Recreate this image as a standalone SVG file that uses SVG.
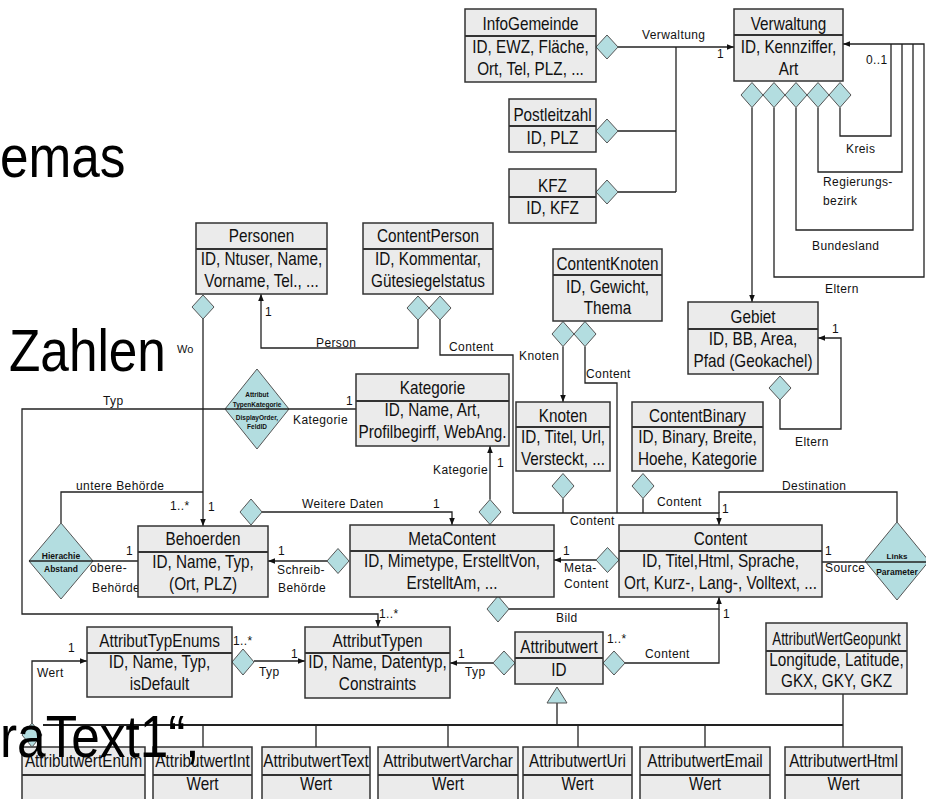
<svg xmlns="http://www.w3.org/2000/svg" width="926" height="799" viewBox="0 0 926 799">
<style>
.box{fill:#ebebeb;stroke:#333;stroke-width:1.5}
.sep{stroke:#333;stroke-width:2}
.bt{font-family:"Liberation Sans",Arial,sans-serif;font-size:18px;fill:#111;text-anchor:middle}
.lb{font-family:"Liberation Sans",Arial,sans-serif;font-size:12px;letter-spacing:.4px;fill:#111}
.dm{fill:#b3dde0;stroke:#555;stroke-width:1}
.dt{font-family:"Liberation Sans",Arial,sans-serif;font-weight:bold;fill:#111;text-anchor:middle}
.c{fill:none;stroke:#222;stroke-width:1.3}
.g2{fill:none;stroke:#222;stroke-width:2.2}
.big{font-family:"Liberation Sans",Arial,sans-serif;font-size:59px;fill:#000}
</style>
<defs>
<marker id="ah" viewBox="0 0 10 10" refX="10" refY="5" markerWidth="7" markerHeight="7" markerUnits="userSpaceOnUse" orient="auto"><path d="M0,1 L10,5 L0,9z" fill="#111"/></marker>
</defs>
<rect width="926" height="799" fill="#fff"/>

<g id="connectors">
<path class="c" d="M618,47 H734" marker-end="url(#ah)"/>
<path class="c" d="M618,131 H676 M618,192 H676 M676,47 V192"/>
<path class="c" d="M752,107.5 V302" marker-end="url(#ah)"/>
<path class="c" d="M774,107.5 V277 H924 V44 H843" marker-end="url(#ah)"/>
<path class="c" d="M796,107.5 V230 H913 V44"/>
<path class="c" d="M818,107.5 V172 H902 V44"/>
<path class="c" d="M840,107.5 V136 H891 V44"/>
<path class="c" d="M203,319 V526" marker-end="url(#ah)"/>
<path class="c" d="M61,523 V492 H203"/>
<path class="c" d="M418,320 V348 H261 V294" marker-end="url(#ah)"/>
<path class="c" d="M440,320 V355 H513 V513"/>
<path class="c" d="M563,346.5 V402" marker-end="url(#ah)"/>
<path class="c" d="M585,346.5 V383 H617 V513"/>
<path class="c" d="M563,498.5 V513 M643,498.5 V513"/>
<path class="c" d="M513,513 H719 V525" marker-end="url(#ah)"/>
<path class="c" d="M897,522 V492 H719 V513"/>
<path class="c" d="M822,562 H865"/>
<path class="c" d="M780,400 V429 H841 V338 H818" marker-end="url(#ah)"/>
<path class="c" d="M225,409 H22 V614 H378 V627" marker-end="url(#ah)"/>
<path class="c" d="M289,409 H356"/>
<path class="c" d="M490,499.5 V446" marker-end="url(#ah)"/>
<path class="c" d="M262,512 H452 V525" marker-end="url(#ah)"/>
<path class="c" d="M93,561 H138"/>
<path class="c" d="M327,561 H268" marker-end="url(#ah)"/>
<path class="c" d="M596,560 H554" marker-end="url(#ah)"/>
<path class="c" d="M509,609 H719 V597" marker-end="url(#ah)"/>
<path class="c" d="M625,663 H719 V609"/>
<path class="c" d="M493,663 H450" marker-end="url(#ah)"/>
<path class="c" d="M254,661 H305" marker-end="url(#ah)"/>
<path class="c" d="M32,723 V661 H87" marker-end="url(#ah)"/>
<path class="c" d="M557,703 V725 M843,694 V747 M203,725 V747 M316,725 V747 M448,725 V747 M578,725 V747 M705,725 V747"/>
<path class="g2" d="M43,725 H843"/>
<polygon class="dm" points="557,687 567,703 547,703"/>
<g id="diamond-ends">
<polygon class="dm" points="607,35 618,47 607,59 596,47"/>
<polygon class="dm" points="607,119 618,131 607,143 596,131"/>
<polygon class="dm" points="607,180 618,192 607,204 596,192"/>
<polygon class="dm" points="752,82.5 763,95 752,107.5 741,95"/>
<polygon class="dm" points="774,82.5 785,95 774,107.5 763,95"/>
<polygon class="dm" points="796,82.5 807,95 796,107.5 785,95"/>
<polygon class="dm" points="818,82.5 829,95 818,107.5 807,95"/>
<polygon class="dm" points="840,82.5 851,95 840,107.5 829,95"/>
<polygon class="dm" points="203,295 214,307 203,319 192,307"/>
<polygon class="dm" points="418,296 429,308 418,320 407,308"/>
<polygon class="dm" points="440,296 451,308 440,320 429,308"/>
<polygon class="dm" points="563,321.5 574,334 563,346.5 552,334"/>
<polygon class="dm" points="585,321.5 596,334 585,346.5 574,334"/>
<polygon class="dm" points="780,376 791,388 780,400 769,388"/>
<polygon class="dm" points="563,473.5 574,486 563,498.5 552,486"/>
<polygon class="dm" points="643,473.5 654,486 643,498.5 632,486"/>
<polygon class="dm" points="490,499.5 501,512 490,524.5 479,512"/>
<polygon class="dm" points="251,499 262,512 251,525 240,512"/>
<polygon class="dm" points="338,548.5 349,561 338,573.5 327,561"/>
<polygon class="dm" points="607.5,547.5 619,560 607.5,572.5 596,560"/>
<polygon class="dm" points="498,596 509,609 498,622 487,609"/>
<polygon class="dm" points="504,651 515,663 504,675 493,663"/>
<polygon class="dm" points="614,651 625,663 614,675 603,663"/>
<polygon class="dm" points="243,649 254,662 243,675 232,662"/>
</g>
<g id="labels">
<text class="lb" x="642" y="39">Verwaltung</text>
<text class="lb" x="717" y="58">1</text>
<text class="lb" x="866" y="64">0..1</text>
<text class="lb" x="846" y="153">Kreis</text>
<text class="lb" x="823" y="186">Regierungs-</text>
<text class="lb" x="823" y="205">bezirk</text>
<text class="lb" x="812" y="250">Bundesland</text>
<text class="lb" x="825" y="293">Eltern</text>
<text class="lb" x="177" y="353" style="font-size:11px;letter-spacing:0">Wo</text>
<text class="lb" x="265" y="316">1</text>
<text class="lb" x="316" y="347">Person</text>
<text class="lb" x="449" y="351">Content</text>
<text class="lb" x="519" y="360">Knoten</text>
<text class="lb" x="586" y="378">Content</text>
<text class="lb" x="832" y="333">1</text>
<text class="lb" x="795" y="446">Eltern</text>
<text class="lb" x="103" y="405">Typ</text>
<text class="lb" x="346" y="405">1</text>
<text class="lb" x="293" y="424">Kategorie</text>
<text class="lb" x="433" y="474">Kategorie</text>
<text class="lb" x="497" y="467">1</text>
<text class="lb" x="76" y="490">untere Behörde</text>
<text class="lb" x="170" y="510">1..*</text>
<text class="lb" x="208" y="511">1</text>
<text class="lb" x="302" y="508">Weitere Daten</text>
<text class="lb" x="433" y="508">1</text>
<text class="lb" x="657" y="506">Content</text>
<text class="lb" x="782" y="490">Destination</text>
<text class="lb" x="570" y="525">Content</text>
<text class="lb" x="722" y="513">1</text>
<text class="lb" x="126" y="555">1</text>
<text class="lb" x="90" y="572">obere-</text>
<text class="lb" x="92" y="592">Behörde</text>
<text class="lb" x="278" y="555">1</text>
<text class="lb" x="277" y="574">Schreib-</text>
<text class="lb" x="278" y="592">Behörde</text>
<text class="lb" x="563" y="555">1</text>
<text class="lb" x="564" y="572">Meta-</text>
<text class="lb" x="564" y="588">Content</text>
<text class="lb" x="825" y="555">1</text>
<text class="lb" x="825" y="572">Source</text>
<text class="lb" x="556" y="622">Bild</text>
<text class="lb" x="723" y="618">1</text>
<text class="lb" x="607" y="643">1..*</text>
<text class="lb" x="645" y="658">Content</text>
<text class="lb" x="458" y="658">1</text>
<text class="lb" x="465" y="676">Typ</text>
<text class="lb" x="379" y="618">1..*</text>
<text class="lb" x="68" y="652">1</text>
<text class="lb" x="37" y="677">Wert</text>
<text class="lb" x="233" y="645">1..*</text>
<text class="lb" x="291" y="658">1</text>
<text class="lb" x="259" y="676">Typ</text>
</g>
</g>

<g id="n-KategorieAssoc">
<polygon class="dm" points="257,369 289,409 257,449 225,409"/>
<line x1="225" y1="409" x2="289" y2="409" stroke="#222" stroke-width="1.3"/>
<text class="dt" x="257" y="397" style="font-size:6.5px">Attribut</text>
<text class="dt" x="257" y="407" style="font-size:6.5px">TypenKategorie</text>
<text class="dt" x="257" y="420" style="font-size:6.5px">DisplayOrder,</text>
<text class="dt" x="257" y="429" style="font-size:6.5px">FeldID</text>
</g>
<g id="n-Links">
<polygon class="dm" points="897,522 929,561 897,600 865,561"/>
<line x1="865" y1="562" x2="929" y2="562" stroke="#222" stroke-width="1.3"/>
<text class="dt" x="897" y="559" style="font-size:8px">Links</text>
<text class="dt" x="897" y="575" style="font-size:8.5px">Parameter</text>
</g>
<g id="n-Hierachie">
<polygon class="dm" points="61,523 93,561 61,599 29,561"/>
<line x1="29" y1="561" x2="93" y2="561" stroke="#222" stroke-width="1.3"/>
<text class="dt" x="61" y="559" style="font-size:8.5px">Hierachie</text>
<text class="dt" x="61" y="572" style="font-size:8.5px">Abstand</text>
</g>

<g id="n-InfoGemeinde"><rect class="box" x="465" y="9" width="131" height="73"/><line class="sep" x1="465" y1="36" x2="596" y2="36"/>
<text class="bt" transform="matrix(.85 0 0 1 530.5 30)">InfoGemeinde</text>
<text class="bt" transform="matrix(.85 0 0 1 530.5 53)">ID, EWZ, Fläche,</text>
<text class="bt" transform="matrix(.85 0 0 1 530.5 75)">Ort, Tel, PLZ, ...</text></g>
<g id="n-Postleitzahl"><rect class="box" x="509" y="99" width="87" height="53"/><line class="sep" x1="509" y1="126" x2="596" y2="126"/>
<text class="bt" transform="matrix(.85 0 0 1 552.5 121)">Postleitzahl</text>
<text class="bt" transform="matrix(.85 0 0 1 552.5 144)">ID, PLZ</text></g>
<g id="n-KFZ"><rect class="box" x="509" y="169" width="87" height="54"/><line class="sep" x1="509" y1="197" x2="596" y2="197"/>
<text class="bt" transform="matrix(.85 0 0 1 552.5 192)">KFZ</text>
<text class="bt" transform="matrix(.85 0 0 1 552.5 214)">ID, KFZ</text></g>
<g id="n-Verwaltung"><rect class="box" x="734" y="9" width="109" height="72"/><line class="sep" x1="734" y1="35" x2="843" y2="35"/>
<text class="bt" transform="matrix(.85 0 0 1 788.5 30)">Verwaltung</text>
<text class="bt" transform="matrix(.85 0 0 1 788.5 53)">ID, Kennziffer,</text>
<text class="bt" transform="matrix(.85 0 0 1 788.5 75)">Art</text></g>
<g id="n-Personen"><rect class="box" x="196" y="223" width="131" height="71"/><line class="sep" x1="196" y1="249" x2="327" y2="249"/>
<text class="bt" transform="matrix(.85 0 0 1 261.5 242)">Personen</text>
<text class="bt" transform="matrix(.85 0 0 1 261.5 265)">ID, Ntuser, Name,</text>
<text class="bt" transform="matrix(.85 0 0 1 261.5 287)">Vorname, Tel., ...</text></g>
<g id="n-ContentPerson"><rect class="box" x="363" y="223" width="130" height="71"/><line class="sep" x1="363" y1="249" x2="493" y2="249"/>
<text class="bt" transform="matrix(.85 0 0 1 428 242)">ContentPerson</text>
<text class="bt" transform="matrix(.85 0 0 1 428 265)">ID, Kommentar,</text>
<text class="bt" transform="matrix(.85 0 0 1 428 287)">Gütesiegelstatus</text></g>
<g id="n-ContentKnoten"><rect class="box" x="553" y="249" width="109" height="72"/><line class="sep" x1="553" y1="275" x2="662" y2="275"/>
<text class="bt" transform="matrix(.85 0 0 1 607.5 270)">ContentKnoten</text>
<text class="bt" transform="matrix(.85 0 0 1 607.5 293)">ID, Gewicht,</text>
<text class="bt" transform="matrix(.85 0 0 1 607.5 314)">Thema</text></g>
<g id="n-Gebiet"><rect class="box" x="688" y="302" width="130" height="72"/><line class="sep" x1="688" y1="329" x2="818" y2="329"/>
<text class="bt" transform="matrix(.85 0 0 1 753 323)">Gebiet</text>
<text class="bt" transform="matrix(.85 0 0 1 753 345)">ID, BB, Area,</text>
<text class="bt" transform="matrix(.85 0 0 1 753 367)">Pfad (Geokachel)</text></g>
<g id="n-Kategorie"><rect class="box" x="356" y="374" width="153" height="72"/><line class="sep" x1="356" y1="401" x2="509" y2="401"/>
<text class="bt" transform="matrix(.85 0 0 1 432.5 394)">Kategorie</text>
<text class="bt" transform="matrix(.85 0 0 1 432.5 416)">ID, Name, Art,</text>
<text class="bt" transform="matrix(.85 0 0 1 432.5 438)">Profilbegirff, WebAng.</text></g>
<g id="n-Knoten"><rect class="box" x="516" y="402" width="94" height="69"/><line class="sep" x1="516" y1="427" x2="610" y2="427"/>
<text class="bt" transform="matrix(.85 0 0 1 563 422)">Knoten</text>
<text class="bt" transform="matrix(.85 0 0 1 563 443)">ID, Titel, Url,</text>
<text class="bt" transform="matrix(.85 0 0 1 563 465)">Versteckt, ...</text></g>
<g id="n-ContentBinary"><rect class="box" x="632" y="402" width="131" height="69"/><line class="sep" x1="632" y1="427" x2="763" y2="427"/>
<text class="bt" transform="matrix(.85 0 0 1 697.5 422)">ContentBinary</text>
<text class="bt" transform="matrix(.85 0 0 1 697.5 443)">ID, Binary, Breite,</text>
<text class="bt" transform="matrix(.85 0 0 1 697.5 465)">Hoehe, Kategorie</text></g>
<g id="n-Behoerden"><rect class="box" x="138" y="526" width="130" height="71"/><line class="sep" x1="138" y1="552" x2="268" y2="552"/>
<text class="bt" transform="matrix(.85 0 0 1 203 545)">Behoerden</text>
<text class="bt" transform="matrix(.85 0 0 1 203 568)">ID, Name, Typ,</text>
<text class="bt" transform="matrix(.85 0 0 1 203 590)">(Ort, PLZ)</text></g>
<g id="n-MetaContent"><rect class="box" x="350" y="525" width="204" height="72"/><line class="sep" x1="350" y1="551" x2="554" y2="551"/>
<text class="bt" transform="matrix(.85 0 0 1 452 545)">MetaContent</text>
<text class="bt" transform="matrix(.85 0 0 1 452 567)">ID, Mimetype, ErstelltVon,</text>
<text class="bt" transform="matrix(.85 0 0 1 452 589)">ErstelltAm, ...</text></g>
<g id="n-Content"><rect class="box" x="619" y="525" width="203" height="72"/><line class="sep" x1="619" y1="551" x2="822" y2="551"/>
<text class="bt" transform="matrix(.85 0 0 1 720.5 545)">Content</text>
<text class="bt" transform="matrix(.85 0 0 1 720.5 567)">ID, Titel,Html, Sprache,</text>
<text class="bt" transform="matrix(.85 0 0 1 720.5 589)">Ort, Kurz-, Lang-, Volltext, ...</text></g>
<g id="n-AttributTypEnums"><rect class="box" x="87" y="627" width="145" height="70"/><line class="sep" x1="87" y1="653" x2="232" y2="653"/>
<text class="bt" transform="matrix(.85 0 0 1 159.5 647)">AttributTypEnums</text>
<text class="bt" transform="matrix(.85 0 0 1 159.5 668)">ID, Name, Typ,</text>
<text class="bt" transform="matrix(.85 0 0 1 159.5 690)">isDefault</text></g>
<g id="n-AttributTypen"><rect class="box" x="305" y="627" width="145" height="71"/><line class="sep" x1="305" y1="653" x2="450" y2="653"/>
<text class="bt" transform="matrix(.85 0 0 1 377.5 647)">AttributTypen</text>
<text class="bt" transform="matrix(.85 0 0 1 377.5 668)">ID, Name, Datentyp,</text>
<text class="bt" transform="matrix(.85 0 0 1 377.5 690)">Constraints</text></g>
<g id="n-Attributwert"><rect class="box" x="515" y="632" width="88" height="52"/><line class="sep" x1="515" y1="658" x2="603" y2="658"/>
<text class="bt" transform="matrix(.85 0 0 1 559 653)">Attributwert</text>
<text class="bt" transform="matrix(.85 0 0 1 559 676)">ID</text></g>
<g id="n-AttributWertGeopunkt"><rect class="box" x="766" y="623" width="141" height="71"/><line class="sep" x1="766" y1="651" x2="907" y2="651"/>
<text class="bt" transform="matrix(.745 0 0 1 836.5 645)">AttributWertGeopunkt</text>
<text class="bt" transform="matrix(.85 0 0 1 836.5 666)">Longitude, Latitude,</text>
<text class="bt" transform="matrix(.85 0 0 1 836.5 687)">GKX, GKY, GKZ</text></g>
<g id="n-AttributwertEnum"><rect class="box" x="22" y="747" width="123" height="60"/><line class="sep" x1="22" y1="775" x2="145" y2="775"/>
<text class="bt" transform="matrix(.85 0 0 1 83.5 767)">AttributwertEnum</text></g>
<g id="n-AttributwertInt"><rect class="box" x="153" y="747" width="99" height="60"/><line class="sep" x1="153" y1="775" x2="252" y2="775"/>
<text class="bt" transform="matrix(.85 0 0 1 202.5 767)">AttributwertInt</text>
<text class="bt" transform="matrix(.85 0 0 1 202.5 790)">Wert</text></g>
<g id="n-AttributwertText"><rect class="box" x="262" y="747" width="108" height="60"/><line class="sep" x1="262" y1="775" x2="370" y2="775"/>
<text class="bt" transform="matrix(.85 0 0 1 316 767)">AttributwertText</text>
<text class="bt" transform="matrix(.85 0 0 1 316 790)">Wert</text></g>
<g id="n-AttributwertVarchar"><rect class="box" x="378" y="747" width="140" height="60"/><line class="sep" x1="378" y1="775" x2="518" y2="775"/>
<text class="bt" transform="matrix(.85 0 0 1 448 767)">AttributwertVarchar</text>
<text class="bt" transform="matrix(.85 0 0 1 448 790)">Wert</text></g>
<g id="n-AttributwertUri"><rect class="box" x="523" y="747" width="109" height="60"/><line class="sep" x1="523" y1="775" x2="632" y2="775"/>
<text class="bt" transform="matrix(.85 0 0 1 577.5 767)">AttributwertUri</text>
<text class="bt" transform="matrix(.85 0 0 1 577.5 790)">Wert</text></g>
<g id="n-AttributwertEmail"><rect class="box" x="640" y="747" width="130" height="60"/><line class="sep" x1="640" y1="775" x2="770" y2="775"/>
<text class="bt" transform="matrix(.85 0 0 1 705 767)">AttributwertEmail</text>
<text class="bt" transform="matrix(.85 0 0 1 705 790)">Wert</text></g>
<g id="n-AttributwertHtml"><rect class="box" x="785" y="747" width="117" height="60"/><line class="sep" x1="785" y1="775" x2="902" y2="775"/>
<text class="bt" transform="matrix(.85 0 0 1 843.5 767)">AttributwertHtml</text>
<text class="bt" transform="matrix(.85 0 0 1 843.5 790)">Wert</text></g>

<polygon id="enum-diamond" class="dm" points="32,723 42,735 32,747 22,735"/>

<g id="slide-text">
<text class="big" transform="matrix(.87 0 0 1 0 177)">emas</text>
<text class="big" transform="matrix(.87 0 0 1 9 371)">Zahlen</text>
<text class="big" transform="matrix(.87 0 0 1 0 757)">raText1“,</text>
</g>
</svg>
